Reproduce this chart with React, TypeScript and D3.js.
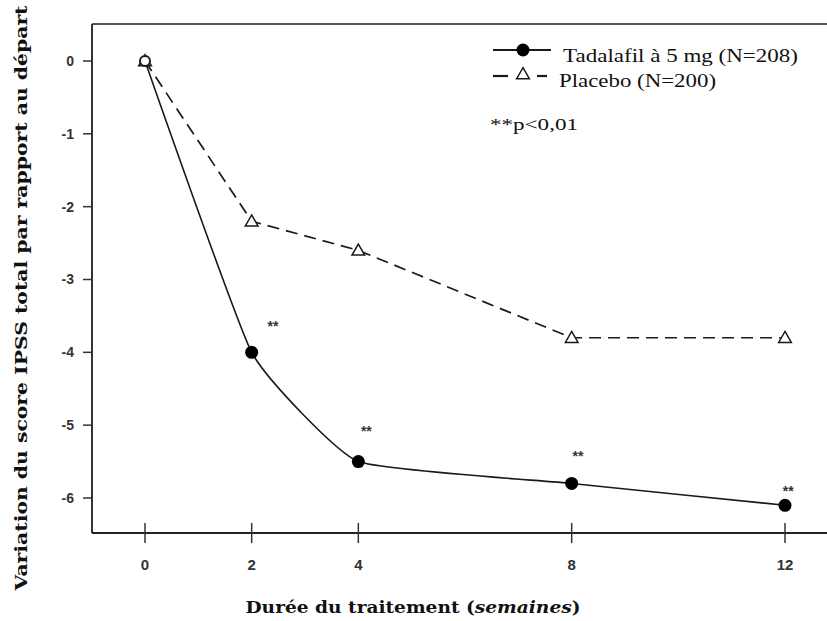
import React from "react";
import * as d3 from "d3";

const weeks = [0, 2, 4, 8, 12];
const tadalafil = [0, -4.0, -5.5, -5.8, -6.1];
const placebo = [0, -2.2, -2.6, -3.8, -3.8];
const yTicks = [0, -1, -2, -3, -4, -5, -6];
const xTicks = [0, 2, 4, 8, 12];
const starWeeks = [2.4, 4.15, 8.12, 12.06];
const starValues = [-3.6, -5.04, -5.38, -5.87];
const seriesLabels = ["Tadalafil à 5 mg (N=208)", "Placebo (N=200)"];

const W = 827;
const H = 621;
const left = 92;
const top = 24;
const bottom = 533;

const x = d3.scaleLinear().domain([0, 12]).range([145, 785]);
const y = d3.scaleLinear().domain([0, -6]).range([61, 498]);

export default function App() {
  const tadaPts: [number, number][] = weeks.map((w, i) => [x(w), y(tadalafil[i])]);
  const placPts: [number, number][] = weeks.map((w, i) => [x(w), y(placebo[i])]);
  const solid = d3.line().curve(d3.curveCardinal.tension(0.6))(tadaPts) || "";
  const dashed = d3.line()(placPts) || "";
  const tri = d3.symbol().type(d3.symbolTriangle).size(70)() || "";
  const ink = "#1a1a1a";
  const tickFont = "'Liberation Sans', Arial, sans-serif";
  const serif = "'Liberation Serif', 'Times New Roman', serif";
  return (
    <svg width={W} height={H} style={{ position: "absolute", left: 0, top: 0, background: "#fff" }}>
      <rect x={0} y={0} width={W} height={H} fill="#fff" />
      {/* frame */}
      <line x1={left} x2={W} y1={top} y2={top} stroke="#555" strokeWidth={2.2} />
      <line x1={left} x2={left} y1={top} y2={bottom} stroke="#333" strokeWidth={2} />
      <line x1={left} x2={W} y1={bottom} y2={bottom} stroke="#222" strokeWidth={2} />
      {/* y ticks */}
      {yTicks.map((t) => (
        <g key={"y" + t}>
          <line x1={left - 9} x2={left} y1={y(t)} y2={y(t)} stroke="#333" strokeWidth={1.5} />
          <text x={74} y={y(t)} dy="0.35em" textAnchor="end" fontFamily={tickFont} fontWeight="bold" fontSize={14} fill="#333">
            {t === 0 ? "0" : "-" + Math.abs(t)}
          </text>
        </g>
      ))}
      {/* x ticks */}
      {xTicks.map((t) => (
        <g key={"x" + t}>
          <line x1={x(t)} x2={x(t)} y1={bottom - 10} y2={bottom + 10} stroke="#333" strokeWidth={1.5} />
          <text x={x(t)} y={565} dy="0.35em" textAnchor="middle" fontFamily={tickFont} fontWeight="bold" fontSize={15} fill="#333">
            {t}
          </text>
        </g>
      ))}
      {/* lines */}
      <path d={dashed} fill="none" stroke={ink} strokeWidth={1.7} strokeDasharray="12,7" />
      <path d={solid} fill="none" stroke={ink} strokeWidth={1.6} />
      {placPts.map((p, i) => (
        <path key={"p" + i} d={tri} transform={`translate(${p[0]},${p[1] + 1})`} fill="#fff" stroke={ink} strokeWidth={1.5} />
      ))}
      {tadaPts.map((p, i) =>
        i === 0 ? (
          <circle key={"t" + i} cx={p[0]} cy={p[1]} r={5} fill="#fff" stroke={ink} strokeWidth={2} />
        ) : (
          <circle key={"t" + i} cx={p[0]} cy={p[1]} r={6.5} fill="#000" />
        )
      )}
      {/* significance stars */}
      {starWeeks.map((w, i) => (
        <text key={"s" + i} x={x(w)} y={y(starValues[i])} dy="0.55em" textAnchor="middle" fontFamily={tickFont} fontWeight="bold" fontSize={14} fill="#333">
          **
        </text>
      ))}
      {/* legend */}
      <line x1={493} x2={551} y1={50} y2={50} stroke={ink} strokeWidth={2} />
      <circle cx={523} cy={50} r={6.5} fill="#000" />
      <text x={563} y={62} fontFamily={serif} fontSize={18} textLength={235} lengthAdjust="spacingAndGlyphs" fill="#111">
        {seriesLabels[0]}
      </text>
      <line x1={493} x2={508} y1={76} y2={76} stroke={ink} strokeWidth={2.2} />
      <line x1={537} x2={547} y1={76} y2={76} stroke={ink} strokeWidth={2.2} />
      <path d={tri} transform={`translate(523,75)`} fill="#fff" stroke={ink} strokeWidth={1.5} />
      <text x={559} y={87} fontFamily={serif} fontSize={18} textLength={157} lengthAdjust="spacingAndGlyphs" fill="#111">
        {seriesLabels[1]}
      </text>
      <text x={490} y={130} fontFamily={serif} fontSize={17} textLength={88} lengthAdjust="spacingAndGlyphs" fill="#111">
        **p&lt;0,01
      </text>
      {/* axis titles */}
      <text x={413} y={613} textAnchor="middle" fontFamily="'DejaVu Serif', serif" fontWeight="bold" fontSize={16} textLength={335} lengthAdjust="spacingAndGlyphs" fill="#111">
        Durée du traitement (<tspan fontStyle="italic">semaines</tspan>)
      </text>
      <text transform={`translate(27,298) rotate(-90)`} textAnchor="middle" fontFamily="'DejaVu Serif', serif" fontWeight="bold" fontSize={16} textLength={585} lengthAdjust="spacingAndGlyphs" fill="#111">
        Variation du score IPSS total par rapport au départ
      </text>
    </svg>
  );
}
